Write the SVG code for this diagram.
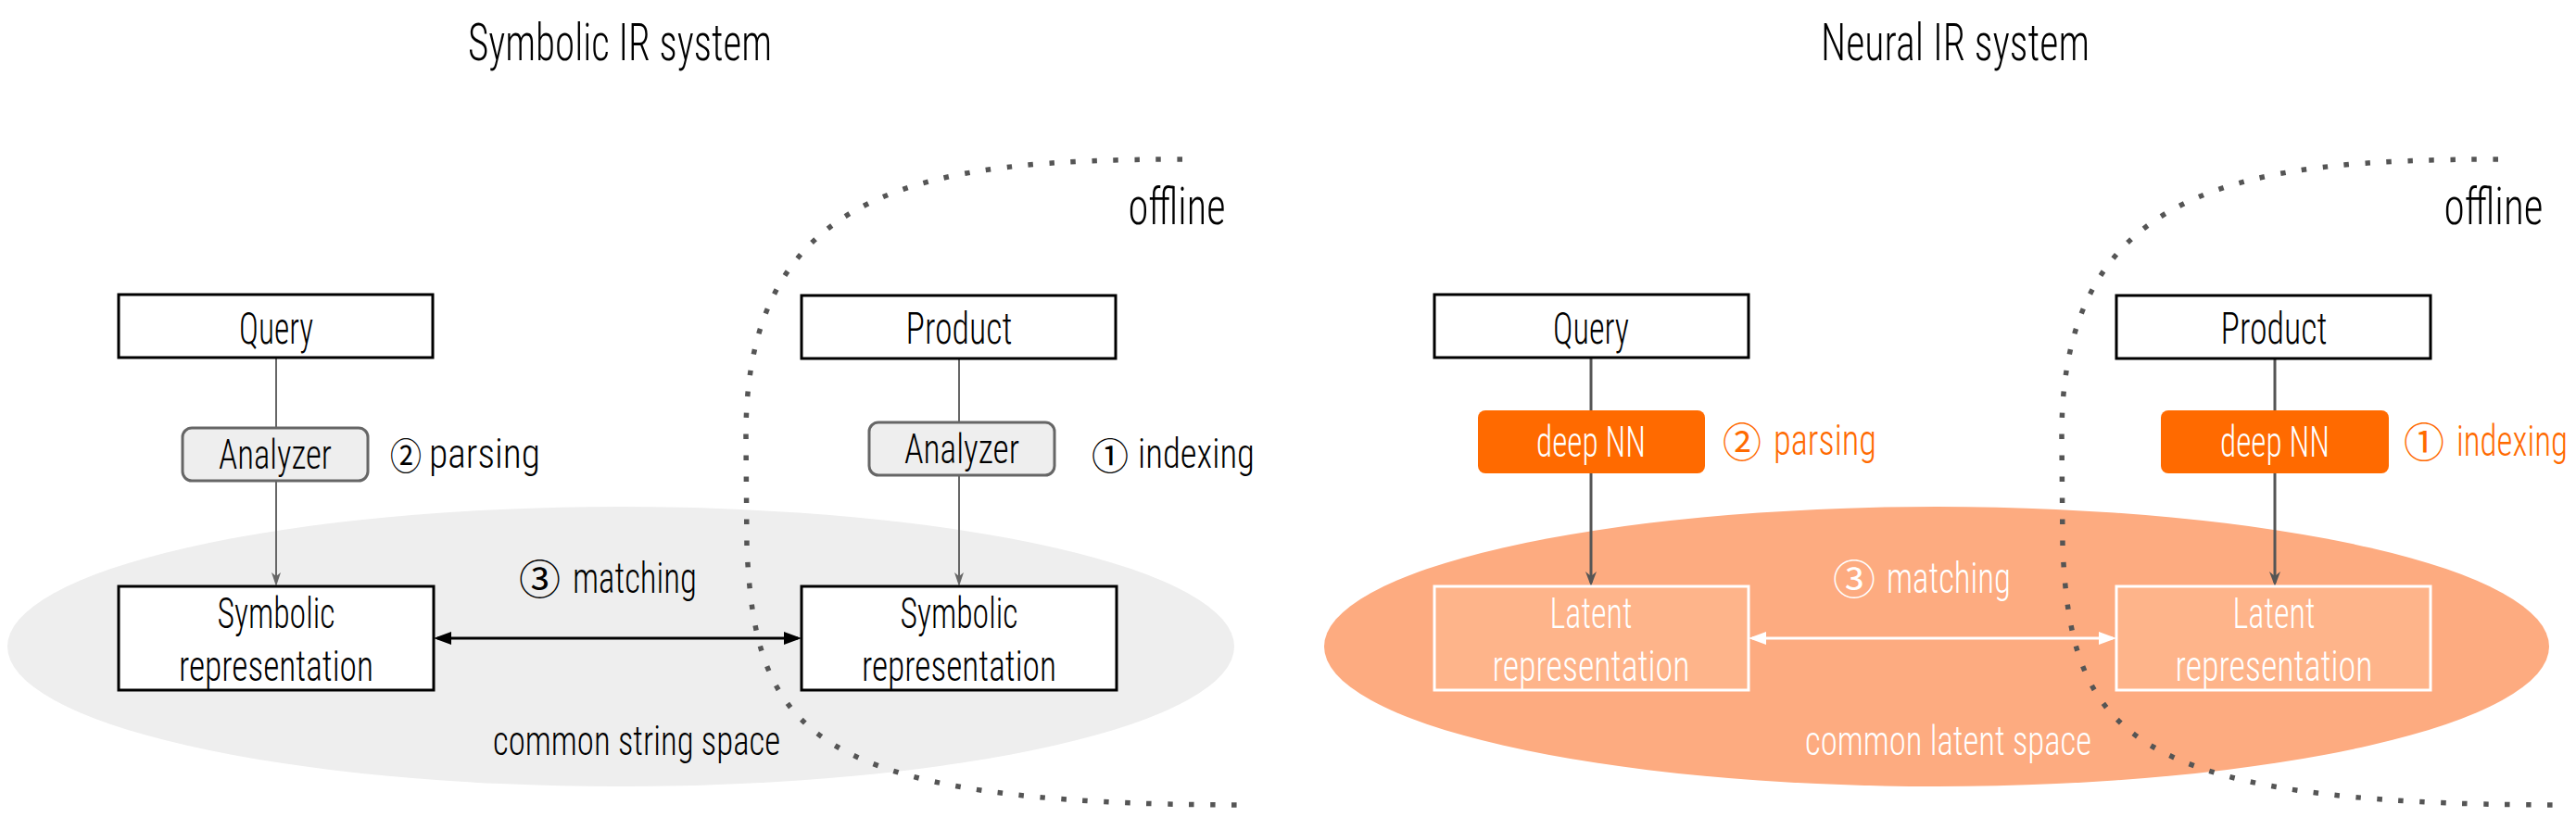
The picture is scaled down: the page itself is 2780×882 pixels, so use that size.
<svg xmlns="http://www.w3.org/2000/svg" width="2780" height="882" viewBox="0 0 2780 882">
<defs>
<style>
.t{font-family:Roboto,'Open Sans','DejaVu Sans',sans-serif;font-weight:300;font-stretch:condensed;fill:#000}
.d{font-family:'Noto Sans CJK JP','Noto Sans CJK SC','DejaVu Sans',sans-serif;font-weight:400;fill:#000}
.c{text-anchor:middle}
.w{fill:#fff}
.o{fill:#ff6a00}
.box{fill:#fff;stroke:#000;stroke-width:3}
.an{fill:#eeeeee;stroke:#666;stroke-width:3}
.nn{fill:#ff6a00}
.lat{fill:#feb48a;stroke:#fff;stroke-width:3}
.g1{stroke:#666;stroke-width:2;fill:none}
.g2{stroke:#555;stroke-width:3;fill:none}
.bk{stroke:#000;stroke-width:3;fill:none}
.wh{stroke:#fff;stroke-width:3;fill:none}
.dot{fill:none;stroke:#555;stroke-width:5.5;stroke-dasharray:5.5 17.5}
</style>
<marker id="ag" markerUnits="userSpaceOnUse" viewBox="0 0 15 10" refX="11" refY="5" markerWidth="15" markerHeight="10" orient="auto"><path d="M0,0 L15,5 L0,10 L4,5 Z" fill="#666"/></marker>
<marker id="ad" markerUnits="userSpaceOnUse" viewBox="0 0 16 12" refX="12" refY="6" markerWidth="16" markerHeight="12" orient="auto"><path d="M0,0 L16,6 L0,12 L5,6 Z" fill="#555"/></marker>
<marker id="ab" markerUnits="userSpaceOnUse" viewBox="0 0 19 14" refX="15" refY="7" markerWidth="19" markerHeight="14" orient="auto-start-reverse"><path d="M0,0 L19,7 L0,14 Z" fill="#000"/></marker>
<marker id="aw" markerUnits="userSpaceOnUse" viewBox="0 0 19 14" refX="15" refY="7" markerWidth="19" markerHeight="14" orient="auto-start-reverse"><path d="M0,0 L19,7 L0,14 Z" fill="#fff"/></marker>
</defs>
<rect x="0" y="0" width="2780" height="882" fill="#fff"/>

<g id="spaces">
<ellipse id="string-space" cx="670" cy="698" rx="662" ry="151" fill="#eeeeee"/>
<ellipse id="latent-space" cx="2090" cy="698" rx="661" ry="151" fill="#fdab80"/>
</g>

<g id="connectors">
<line class="g1" x1="298" y1="387" x2="298" y2="462"/>
<line class="g1" x1="298" y1="519" x2="298" y2="629" marker-end="url(#ag)"/>
<line class="g1" x1="1035" y1="388" x2="1035" y2="456"/>
<line class="g1" x1="1035" y1="513" x2="1035" y2="629" marker-end="url(#ag)"/>
<line class="bk" x1="472" y1="689" x2="861" y2="689" marker-start="url(#ab)" marker-end="url(#ab)"/>
<line class="g2" x1="1717" y1="386" x2="1717" y2="443"/>
<line class="g2" x1="1717" y1="511" x2="1717" y2="629" marker-end="url(#ad)"/>
<line class="g2" x1="2455" y1="388" x2="2455" y2="443"/>
<line class="g2" x1="2455" y1="511" x2="2455" y2="629" marker-end="url(#ad)"/>
<line class="wh" x1="1891" y1="689" x2="2280" y2="689" marker-start="url(#aw)" marker-end="url(#aw)"/>
</g>

<g id="offline-boundaries">
<path class="dot" d="M1276,172 C1000,172 805,200 805,470 L806,590 C815,790 870,869 1345,869"/>
<path class="dot" d="M2696,172 C2420,172 2225,200 2225,470 L2226,590 C2235,790 2290,869 2765,869"/>
</g>

<g id="symbolic-title"><text class="t c" x="669" y="65" font-size="56" textLength="328" lengthAdjust="spacingAndGlyphs">Symbolic IR system</text></g>
<g id="symbolic-offline"><text class="t c" x="1270" y="242" font-size="55" textLength="105" lengthAdjust="spacingAndGlyphs">offline</text></g>

<g id="sym-query"><rect class="box" x="128" y="318" width="339" height="68"/><text class="t c" x="298" y="371" font-size="48" textLength="80" lengthAdjust="spacingAndGlyphs">Query</text></g>
<g id="sym-product"><rect class="box" x="865" y="319" width="339" height="68"/><text class="t c" x="1035" y="371" font-size="48" textLength="115" lengthAdjust="spacingAndGlyphs">Product</text></g>
<g id="sym-analyzer-q"><rect class="an" x="197" y="462" width="200" height="57" rx="10"/><text class="t c" x="297" y="506" font-size="44" textLength="122" lengthAdjust="spacingAndGlyphs">Analyzer</text></g>
<g id="sym-analyzer-p"><rect class="an" x="938" y="456" width="200" height="57" rx="10"/><text class="t c" x="1038" y="500" font-size="44" textLength="124" lengthAdjust="spacingAndGlyphs">Analyzer</text></g>
<g id="sym-parsing"><text class="d" x="421" y="507" font-size="40" textLength="34" lengthAdjust="spacingAndGlyphs">②</text><text class="t" x="463" y="505" font-size="44" textLength="120" lengthAdjust="spacingAndGlyphs">parsing</text></g>
<g id="sym-indexing"><text class="d" x="1178" y="507" font-size="40" textLength="40" lengthAdjust="spacingAndGlyphs">①</text><text class="t" x="1228" y="505" font-size="44" textLength="126" lengthAdjust="spacingAndGlyphs">indexing</text></g>
<g id="sym-rep-q"><rect class="box" x="128" y="633" width="340" height="112"/><text class="t c" x="298" y="678" font-size="47" textLength="127" lengthAdjust="spacingAndGlyphs">Symbolic</text><text class="t c" x="298" y="735" font-size="47" textLength="210" lengthAdjust="spacingAndGlyphs">representation</text></g>
<g id="sym-rep-p"><rect class="box" x="865" y="633" width="340" height="112"/><text class="t c" x="1035" y="678" font-size="47" textLength="127" lengthAdjust="spacingAndGlyphs">Symbolic</text><text class="t c" x="1035" y="735" font-size="47" textLength="210" lengthAdjust="spacingAndGlyphs">representation</text></g>
<g id="sym-matching"><text class="d" x="560" y="642" font-size="44" textLength="45" lengthAdjust="spacingAndGlyphs">③</text><text class="t" x="618" y="640" font-size="46" textLength="134" lengthAdjust="spacingAndGlyphs">matching</text></g>
<g id="sym-space-label"><text class="t" x="532" y="815" font-size="45" textLength="310" lengthAdjust="spacingAndGlyphs">common string space</text></g>

<g id="neural-title"><text class="t c" x="2110" y="65" font-size="56" textLength="290" lengthAdjust="spacingAndGlyphs">Neural IR system</text></g>
<g id="neural-offline"><text class="t c" x="2691" y="242" font-size="55" textLength="107" lengthAdjust="spacingAndGlyphs">offline</text></g>

<g id="neu-query"><rect class="box" x="1548" y="318" width="339" height="68"/><text class="t c" x="1717" y="371" font-size="48" textLength="82" lengthAdjust="spacingAndGlyphs">Query</text></g>
<g id="neu-product"><rect class="box" x="2284" y="319" width="339" height="68"/><text class="t c" x="2454" y="371" font-size="48" textLength="115" lengthAdjust="spacingAndGlyphs">Product</text></g>
<g id="neu-nn-q"><rect class="nn" x="1595" y="443" width="245" height="68" rx="8"/><text class="t c w" x="1717" y="493" font-size="46" textLength="118" lengthAdjust="spacingAndGlyphs">deep NN</text></g>
<g id="neu-nn-p"><rect class="nn" x="2332" y="443" width="246" height="68" rx="8"/><text class="t c w" x="2455" y="493" font-size="46" textLength="118" lengthAdjust="spacingAndGlyphs">deep NN</text></g>
<g id="neu-parsing"><text class="d o" x="1859" y="494" font-size="44" textLength="42" lengthAdjust="spacingAndGlyphs">②</text><text class="t o" x="1914" y="491" font-size="46" textLength="111" lengthAdjust="spacingAndGlyphs">parsing</text></g>
<g id="neu-indexing"><text class="d o" x="2594" y="494" font-size="44" textLength="44" lengthAdjust="spacingAndGlyphs">①</text><text class="t o" transform="translate(2651,492) scale(0.71,1)" x="0" y="0" font-size="46" textLength="169" lengthAdjust="spacingAndGlyphs">indexing</text></g>
<g id="neu-rep-q"><rect class="lat" x="1548" y="633" width="339" height="112"/><text class="t c w" x="1717" y="678" font-size="47" textLength="89" lengthAdjust="spacingAndGlyphs">Latent</text><text class="t c w" x="1717" y="735" font-size="47" textLength="213" lengthAdjust="spacingAndGlyphs">representation</text></g>
<g id="neu-rep-p"><rect class="lat" x="2284" y="633" width="339" height="112"/><text class="t c w" x="2454" y="678" font-size="47" textLength="89" lengthAdjust="spacingAndGlyphs">Latent</text><text class="t c w" x="2454" y="735" font-size="47" textLength="213" lengthAdjust="spacingAndGlyphs">representation</text></g>
<g id="neu-matching"><text class="d w" x="1978" y="642" font-size="44" textLength="46" lengthAdjust="spacingAndGlyphs">③</text><text class="t w" x="2036" y="640" font-size="46" textLength="134" lengthAdjust="spacingAndGlyphs">matching</text></g>
<g id="neu-space-label"><text class="t w" x="1948" y="815" font-size="45" textLength="309" lengthAdjust="spacingAndGlyphs">common latent space</text></g>
</svg>
